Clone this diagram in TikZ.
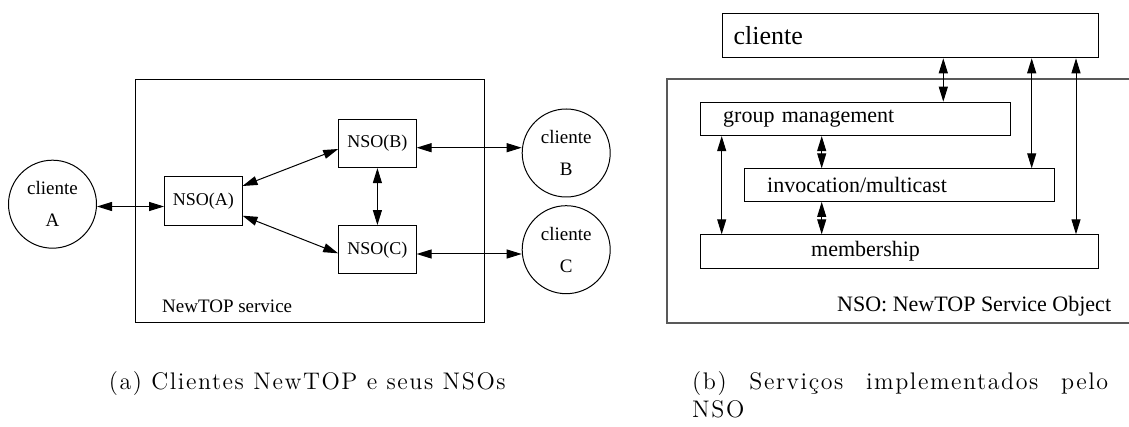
\documentclass[tikz,border=0pt]{standalone}
\usepackage{fontspec}
\newfontfamily\figfont{Liberation Serif}
\newfontfamily\capfont{lmroman12-regular.otf}[LetterSpace=6.5]
\usetikzlibrary{arrows.meta}

\tikzset{
    >={Triangle[length=7.5pt,width=4.5pt]},
    nso/.style={draw, minimum width=38.7pt, minimum height=24.2pt, inner sep=0pt, font=\figfont\fontsize{9}{11}\selectfont},
    client/.style={draw, circle, minimum size=44pt, inner sep=0pt, align=center, font=\figfont\fontsize{9.5}{16}\selectfont},
    layer/.style={draw, anchor=north west, align=left, inner ysep=0pt, font=\figfont\fontsize{11}{13}\selectfont},
    caption/.style={anchor=base west, inner sep=0pt, font=\capfont\fontsize{12}{14}\selectfont},
}

\begin{document}
\begin{tikzpicture}[x=0.5pt, y=-0.5pt, line width=0.5pt]
    \useasboundingbox (0,0) rectangle (1129,427);

    % (a) clientes and their NSOs
    \node[draw, minimum width=174.1pt, minimum height=121.7pt] (svc) at (310,201) {};
    \node[anchor=base west, font=\figfont\fontsize{9.5}{11}\selectfont] (svclbl) at (155,312.7) {NewTOP service};
    \node[nso] (nsoa) at (203.3,200.9) {NSO(A)};
    \node[nso] (nsob) at (377.4,143.4) {NSO(B)};
    \node[nso] (nsoc) at (377.4,249.8) {NSO(C)};
    \node[client] (ca) at (52.5,204.2) {cliente\\A};
    \node[client] (cb) at (566.2,153) {cliente\\B};
    \node[client] (cc) at (566.2,249.7) {cliente\\C};

    \coordinate (rowa) at (0,206.5);
    \coordinate (rowb) at (0,147.7);
    \coordinate (rowc) at (0,254);
    \draw[<->] (ca.east |- rowa) -- (nsoa.west |- rowa);
    \draw[<->] (nsob.east |- rowb) -- (cb.west |- rowb);
    \draw[<->] (nsoc.east |- rowc) -- (cc.west |- rowc);
    \draw[<->] ([yshift=7.45pt]nsoa.east) -- ([yshift=-2.8pt]nsob.west);
    \draw[<->] ([yshift=-7.4pt]nsoa.east) -- ([yshift=-1.75pt]nsoc.west);
    \draw[<->] (nsob) -- (nsoc);

    % (b) services of the NSO
    \draw[line width=1pt, black!65] (1129,79.3) -- (666.7,79.3) -- (666.7,322.7) -- (1129,322.7);
    \node[anchor=base east, font=\figfont\fontsize{11}{13}\selectfont] (nsolbl) at (1118.3,311.7) {NSO: NewTOP Service Object};
    \node[layer, font=\figfont\fontsize{13}{15}\selectfont, minimum height=22pt, inner xsep=5.65pt, text width=177pt] (cli) at (721.7,13.3) {cliente};
    \node[layer, minimum height=16.7pt, inner xsep=11.35pt, text width=132.3pt] (gm) at (700,101.7) {group management};
    \node[layer, minimum height=16.3pt, inner xsep=11.35pt, text width=132.3pt] (inv) at (744,168.3) {invocation/multicast};
    \node[layer, minimum height=16.7pt, inner xsep=55.35pt, text width=88.5pt] (mem) at (700,234.3) {membership};

    \coordinate (colleft) at (721.7,0);
    \coordinate (colmid) at (821.7,0);
    \coordinate (colgm) at (943.3,0);
    \coordinate (colinv) at (1031.7,0);
    \coordinate (colmem) at (1076,0);
    \draw[<->] (colgm |- cli.south) -- (colgm |- gm.north);
    \draw[<->] (colinv |- cli.south) -- (colinv |- inv.north);
    \draw[<->] (colmem |- cli.south) -- (colmem |- mem.north);
    \draw[<->] (colleft |- gm.south) -- (colleft |- mem.north);
    \draw[<->] (colmid |- gm.south) -- (colmid |- inv.north);
    \draw[<->] (colmid |- inv.south) -- (colmid |- mem.north);

    % captions
    \node[caption] (capa) at (108.3,389) {(a) Clientes NewTOP e seus NSOs};
    \node[caption] (capb) at (691.7,389.3) {\makebox[208pt][s]{(b) Serviços implementados pelo}};
    \node[caption] (capbb) at (691.7,417.6) {NSO};
\end{tikzpicture}
\end{document}
